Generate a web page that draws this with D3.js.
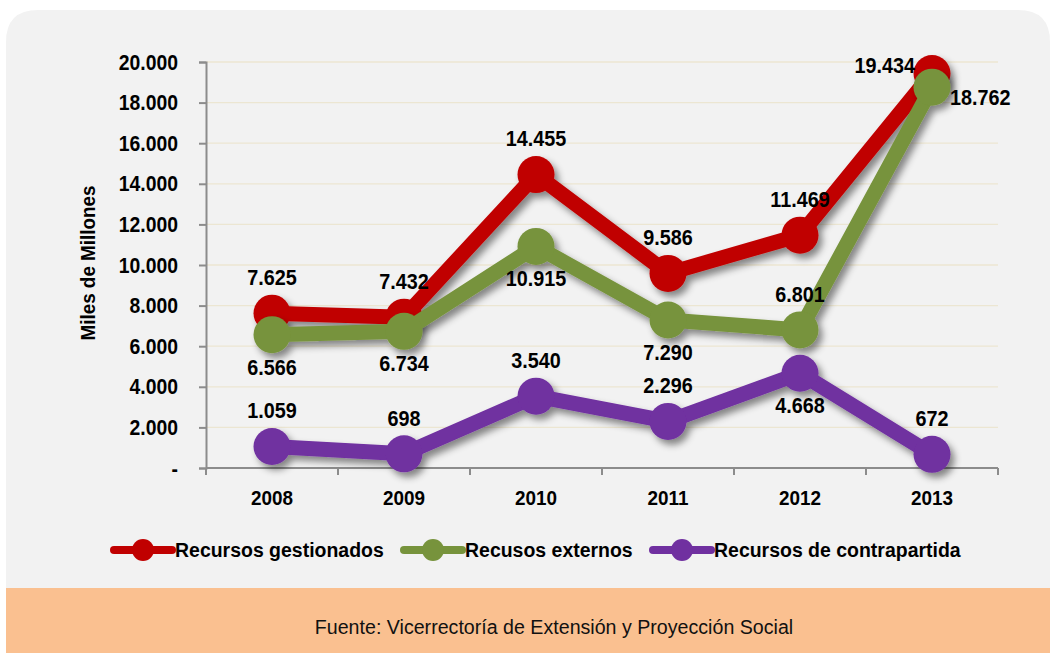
<!DOCTYPE html>
<html>
<head>
<meta charset="utf-8">
<script src="https://cdn.jsdelivr.net/npm/d3@7"></script>
<style>
  html, body { margin: 0; padding: 0; background: #ffffff; }
  svg { display: block; }
  text { font-family: "Liberation Sans Narrow", "Arial Narrow", "Liberation Sans", Arial, sans-serif; }
</style>
</head>
<body>
<svg id="chart" width="1050" height="654"></svg>
<script>
// Years on the category axis
const years = ["2008", "2009", "2010", "2011", "2012", "2013"];

// Series values, thousands of millions
const gestionados   = [7625, 7432, 14455, 9586, 11469, 19434];
const externos      = [6566, 6734, 10915, 7290, 6801, 18762];
const contrapartida = [1059, 698, 3540, 2296, 4668, 672];

// Series names shown in the legend
const seriesNames = ["Recursos gestionados", "Recusos externos", "Recursos de contrapartida"];

// Y axis ticks
const yTicks = [0, 2000, 4000, 6000, 8000, 10000, 12000, 14000, 16000, 18000, 20000];

// Where each value label sits relative to its point
const placeGestionados   = ["above", "above", "above", "above", "above", "left"];
const placeExternos      = ["below", "below", "below", "below", "above", "right"];
const placeContrapartida = ["above", "above", "above", "above", "below", "above"];

const colors = ["#c00000", "#77933c", "#7030a0"];

const svg = d3.select("#chart");
const W = 1050;

// Condensed text: drawn at (x, y) and squeezed horizontally
function narrowText(parent, x, y, str, opts) {
  const sx = opts.sx || 0.9;
  return parent.append("text")
    .attr("transform", `translate(${x},${y}) scale(${sx},1)`)
    .attr("text-anchor", opts.anchor || "middle")
    .attr("dominant-baseline", "central")
    .attr("font-size", opts.size)
    .attr("font-weight", opts.weight || "bold")
    .attr("fill", opts.fill || "#000")
    .text(str);
}

// Drop shadow used by the series lines and markers
const defs = svg.append("defs");
const f = defs.append("filter").attr("id", "shadow")
  .attr("x", "-20%").attr("y", "-20%").attr("width", "140%").attr("height", "140%");
f.append("feDropShadow").attr("dx", 4).attr("dy", 5).attr("stdDeviation", 3.5)
  .attr("flood-color", "#000").attr("flood-opacity", 0.45);

// Panel background with rounded top corners
const px = 6, py = 10, pr = 32, pb = 588;
svg.append("path")
  .attr("d", `M${px},${pb} L${px},${py + pr} Q${px},${py} ${px + pr},${py} L${W - pr},${py} Q${W},${py} ${W},${py + pr} L${W},${pb} Z`)
  .attr("fill", "#f2f2f2");

// Source band
svg.append("rect").attr("x", px).attr("y", pb).attr("width", W - px).attr("height", 653 - pb)
  .attr("fill", "#fac090");
narrowText(svg, 554, 627, "Fuente: Vicerrectoría de Extensión y Proyección Social",
  { size: 21, weight: "normal", sx: 0.935, fill: "#111" });

// Scales
const x = d3.scaleBand().domain(years).range([206, 998]);
const y = d3.scaleLinear().domain([0, 20000]).range([468, 62]);
const cx = d => x(d) + x.bandwidth() / 2;

// Gridlines
svg.append("g").selectAll("line").data(yTicks.filter(t => t > 0)).join("line")
  .attr("x1", 206).attr("x2", 998)
  .attr("y1", d => y(d)).attr("y2", d => y(d))
  .attr("stroke", "#ece6d2").attr("stroke-width", 1.3);

// Y axis
const fmt = v => v === 0 ? "-" : d3.format(",")(v).replace(/,/g, ".");
const tickSx = 0.88;
const yAxis = svg.append("g").attr("transform", "translate(206,0)")
  .call(d3.axisLeft(y).tickValues(yTicks).tickSize(7).tickPadding(21).tickFormat(fmt));
yAxis.select(".domain").attr("stroke", "#8c8c8c").attr("stroke-width", 2);
yAxis.selectAll(".tick line").attr("stroke", "#8c8c8c").attr("stroke-width", 2);
yAxis.selectAll(".tick text")
  .attr("x", -28 / tickSx).attr("transform", `scale(${tickSx},1)`)
  .attr("font-size", 22).attr("font-weight", "bold")
  .attr("fill", "#000").attr("font-family", null);

// X axis with ticks on the band edges
const xAxis = svg.append("g").attr("transform", "translate(0,468)");
xAxis.append("line").attr("x1", 206).attr("x2", 998).attr("y1", 0).attr("y2", 0)
  .attr("stroke", "#8c8c8c").attr("stroke-width", 2);
const edges = years.map(d => x(d)).concat([x(years[years.length - 1]) + x.bandwidth()]);
xAxis.selectAll("line.edge").data(edges).join("line").attr("class", "edge")
  .attr("x1", d => d).attr("x2", d => d).attr("y1", 0).attr("y2", 7)
  .attr("stroke", "#8c8c8c").attr("stroke-width", 2);
years.forEach(d => narrowText(xAxis, cx(d), 30, d, { size: 21, sx: 0.9 }));

// Y axis title
svg.append("text")
  .attr("transform", "translate(88,263) rotate(-90) scale(0.92,1)")
  .attr("text-anchor", "middle").attr("dominant-baseline", "central")
  .attr("font-size", 20.5).attr("font-weight", "bold").attr("fill", "#000")
  .text("Miles de Millones");

// Series
const series = [
  { name: seriesNames[0], values: gestionados, place: placeGestionados, color: colors[0] },
  { name: seriesNames[1], values: externos, place: placeExternos, color: colors[1] },
  { name: seriesNames[2], values: contrapartida, place: placeContrapartida, color: colors[2] }
];

const line = d3.line().x((d, i) => cx(years[i])).y(d => y(d));

series.forEach(s => {
  const g = svg.append("g").attr("filter", "url(#shadow)");
  g.append("path").datum(s.values).attr("d", line)
    .attr("fill", "none").attr("stroke", s.color).attr("stroke-width", 15)
    .attr("stroke-linejoin", "round");
  g.selectAll("circle").data(s.values).join("circle")
    .attr("cx", (d, i) => cx(years[i])).attr("cy", d => y(d)).attr("r", 18.5)
    .attr("fill", s.color);
});

// Value labels
const labelFmt = v => d3.format(",")(v).replace(/,/g, ".");
const labels = svg.append("g");
series.forEach(s => {
  s.values.forEach((v, i) => {
    const p = s.place[i];
    const lx = cx(years[i]) + (p === "left" ? -17 : p === "right" ? 18 : 0);
    const ly = y(v) + (p === "above" ? -36 : p === "below" ? 32 : p === "left" ? -8 : 10);
    const anchor = p === "left" ? "end" : p === "right" ? "start" : "middle";
    narrowText(labels, lx, ly, labelFmt(v), { size: 22, sx: 0.9, anchor });
  });
});

// Legend
const legendX = [114, 404, 653];
const lg = svg.append("g");
series.forEach((s, i) => {
  const x0 = legendX[i];
  lg.append("line").attr("x1", x0).attr("x2", x0 + 58).attr("y1", 550).attr("y2", 550)
    .attr("stroke", s.color).attr("stroke-width", 8).attr("stroke-linecap", "round");
  lg.append("circle").attr("cx", x0 + 29).attr("cy", 550).attr("r", 11).attr("fill", s.color);
  narrowText(lg, x0 + 61, 550, s.name, { size: 20.5, sx: 0.95, anchor: "start" });
});
</script>
</body>
</html>
